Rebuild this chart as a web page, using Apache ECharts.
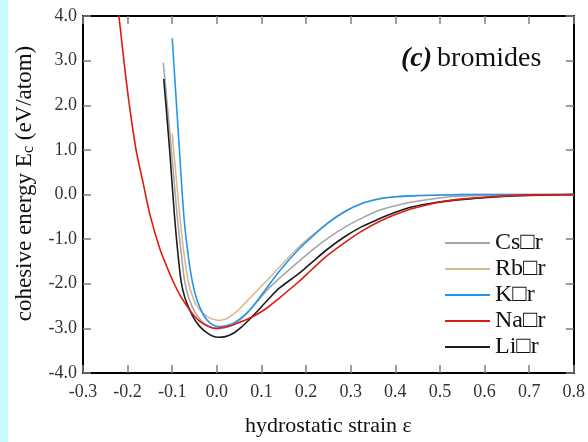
<!DOCTYPE html>
<html>
<head>
<meta charset="utf-8">
<script src="https://cdn.jsdelivr.net/npm/echarts@6/dist/echarts.min.js"></script>
<style>
html, body { margin: 0; padding: 0; background: #fff; }
#chart { width: 588px; height: 442px; }
</style>
</head>
<body>
<div id="chart"></div>
<script>
// values: strain ε and cohesive energy (eV/atom)
var seriesNames = ['Cs\u25A1r', 'Rb\u25A1r', 'K\u25A1r', 'Na\u25A1r', 'Li\u25A1r'];

var strainCs = [-0.12, -0.102, -0.089, -0.08, -0.072, -0.062, -0.05, -0.035, -0.015, 0.0, 0.02, 0.045, 0.073, 0.11, 0.14, 0.184, 0.213, 0.25, 0.289, 0.325, 0.363, 0.40, 0.437, 0.49, 0.54, 0.6, 0.7, 0.8];
var energyCs = [2.95, 1.02, -0.47, -1.3, -1.95, -2.35, -2.62, -2.83, -2.97, -3.01, -2.98, -2.87, -2.6, -2.17, -1.88, -1.5, -1.25, -0.97, -0.72, -0.53, -0.36, -0.25, -0.17, -0.09, -0.04, -0.02, -0.005, 0.0];

var strainRb = [-0.1, -0.097, -0.083, -0.074, -0.064, -0.052, -0.039, -0.024, -0.01, 0.005, 0.02, 0.035, 0.055, 0.073, 0.11, 0.14, 0.184, 0.213, 0.25, 0.289, 0.325, 0.363, 0.40, 0.437, 0.5, 0.6, 0.8];
var energyRb = [1.37, 1.02, -0.47, -1.3, -1.95, -2.35, -2.58, -2.72, -2.79, -2.82, -2.79, -2.7, -2.52, -2.33, -1.95, -1.63, -1.17, -0.92, -0.63, -0.37, -0.2, -0.1, -0.05, -0.03, -0.01, 0.0, 0.0];

var strainK = [-0.1, -0.084, -0.074, -0.065, -0.055, -0.045, -0.03, -0.015, 0.005, 0.025, 0.043, 0.073, 0.11, 0.14, 0.184, 0.213, 0.25, 0.289, 0.325, 0.363, 0.40, 0.437, 0.5, 0.6, 0.8];
var energyK = [3.5, 1.02, -0.47, -1.3, -1.95, -2.35, -2.7, -2.88, -2.96, -2.93, -2.85, -2.6, -2.12, -1.72, -1.22, -0.95, -0.63, -0.37, -0.2, -0.1, -0.05, -0.03, -0.01, 0.0, 0.0];

var strainNa = [-0.223, -0.2196, -0.216, -0.206, -0.196, -0.181, -0.165, -0.15, -0.128, -0.112, -0.098, -0.083, -0.069, -0.054, -0.039, -0.02, 0.0, 0.025, 0.05, 0.08, 0.11, 0.14, 0.184, 0.213, 0.25, 0.289, 0.325, 0.363, 0.40, 0.437, 0.49, 0.54, 0.6, 0.65, 0.7, 0.8];
var energyNa = [4.3, 4.0, 3.69, 2.8, 2.0, 1.0, 0.25, -0.45, -1.21, -1.62, -1.95, -2.25, -2.47, -2.68, -2.84, -2.95, -3.0, -2.96, -2.87, -2.74, -2.56, -2.32, -1.95, -1.68, -1.35, -1.06, -0.82, -0.61, -0.45, -0.32, -0.19, -0.11, -0.06, -0.03, -0.015, 0.0];

var strainLi = [-0.119, -0.106, -0.095, -0.087, -0.08, -0.072, -0.061, -0.05, -0.039, -0.025, -0.01, 0.003, 0.017, 0.035, 0.055, 0.073, 0.095, 0.117, 0.14, 0.184, 0.213, 0.25, 0.289, 0.325, 0.363, 0.40, 0.437, 0.49, 0.54, 0.6, 0.65, 0.7, 0.8];
var energyLi = [2.59, 1.02, -0.47, -1.35, -1.95, -2.3, -2.58, -2.8, -2.95, -3.08, -3.17, -3.2, -3.19, -3.12, -2.97, -2.8, -2.57, -2.33, -2.1, -1.77, -1.52, -1.21, -0.93, -0.72, -0.55, -0.4, -0.28, -0.18, -0.12, -0.07, -0.04, -0.02, 0.0];

var xTicks = [-0.3, -0.2, -0.1, 0.0, 0.1, 0.2, 0.3, 0.4, 0.5, 0.6, 0.7, 0.8];
var yTicks = [-4, -3, -2, -1, 0, 1, 2, 3, 4];

var colors = {
    Cs: '#a6a6a6',
    Rb: '#dbb88e',
    K: '#2196f0',
    Na: '#dd1c10',
    Li: '#1c1c1c'
};

function pairs(xs, ys) {
    return xs.map(function (x, i) { return [x, ys[i]]; });
}

function curve(name, xs, ys, color) {
    return {
        name: name,
        type: 'line',
        data: pairs(xs, ys),
        smooth: 0.3,
        showSymbol: false,
        clip: true,
        lineStyle: { color: color, width: 1.6 },
        itemStyle: { color: color }
    };
}

var serif = '"Liberation Serif", "DejaVu Serif", serif';
var tickLabel = function (v) { return v.toFixed(1); };

var baseX = {
    type: 'value',
    min: xTicks[0],
    max: xTicks[xTicks.length - 1],
    interval: 0.1,
    splitLine: { show: false },
    axisLine: { onZero: false, lineStyle: { color: '#000', width: 2 } },
    axisTick: { inside: true, length: 8, lineStyle: { color: '#808080', width: 1.5 } }
};
var baseY = {
    type: 'value',
    min: yTicks[0],
    max: yTicks[yTicks.length - 1],
    interval: 1,
    splitLine: { show: false },
    axisLine: { onZero: false, lineStyle: { color: '#000', width: 2 } },
    axisTick: { inside: true, length: 8, lineStyle: { color: '#808080', width: 1.5 } }
};

var option = {
    backgroundColor: '#fff',
    animation: false,
    grid: { left: 83, right: 12, top: 16, bottom: 66 },
    graphic: [{
        type: 'rect',
        left: 0, top: 0,
        shape: { width: 8, height: 442 },
        style: { fill: '#c8fcfc' }
    }],
    title: {
        text: '{i|(c)} {r|bromides}',
        left: 396, top: 40,
        textStyle: {
            rich: {
                i: { fontFamily: serif, fontSize: 28, fontStyle: 'italic', fontWeight: 'bold', color: '#111' },
                r: { fontFamily: serif, fontSize: 28, fontWeight: 'normal', color: '#111' }
            }
        }
    },
    legend: {
        data: seriesNames,
        orient: 'vertical',
        left: 440, top: 226,
        icon: 'rect',
        itemWidth: 45, itemHeight: 2,
        itemGap: 2,
        textStyle: { fontFamily: serif, fontSize: 24, lineHeight: 24, color: '#111' }
    },
    xAxis: [
        Object.assign({}, baseX, {
            position: 'bottom',
            name: 'hydrostatic strain \u03b5',
            nameLocation: 'middle',
            nameGap: 42,
            nameTextStyle: { fontFamily: serif, fontSize: 22, color: '#111' },
            axisLabel: { margin: 10, fontFamily: serif, fontSize: 18, color: '#333', formatter: tickLabel }
        }),
        Object.assign({}, baseX, { position: 'top', axisLabel: { show: false } })
    ],
    yAxis: [
        Object.assign({}, baseY, {
            position: 'left',
            name: 'cohesive energy E{s|c} (eV/atom)',
            nameLocation: 'middle',
            nameRotate: 90,
            nameGap: 46,
            nameTextStyle: {
                fontFamily: serif, fontSize: 23, color: '#111',
                padding: [0, 0, 0, 22],
                rich: { s: { fontFamily: serif, fontSize: 16, color: '#111', padding: [8, 0, 0, 0] } }
            },
            axisLabel: { margin: 6, fontFamily: serif, fontSize: 18, color: '#333', formatter: tickLabel }
        }),
        Object.assign({}, baseY, { position: 'right', axisLabel: { show: false } })
    ],
    series: [
        curve(seriesNames[0], strainCs, energyCs, colors.Cs),
        curve(seriesNames[1], strainRb, energyRb, colors.Rb),
        curve(seriesNames[2], strainK, energyK, colors.K),
        curve(seriesNames[4], strainLi, energyLi, colors.Li),
        curve(seriesNames[3], strainNa, energyNa, colors.Na)
    ]
};

var chart = echarts.init(document.getElementById('chart'));
chart.setOption(option);
</script>
</body>
</html>
